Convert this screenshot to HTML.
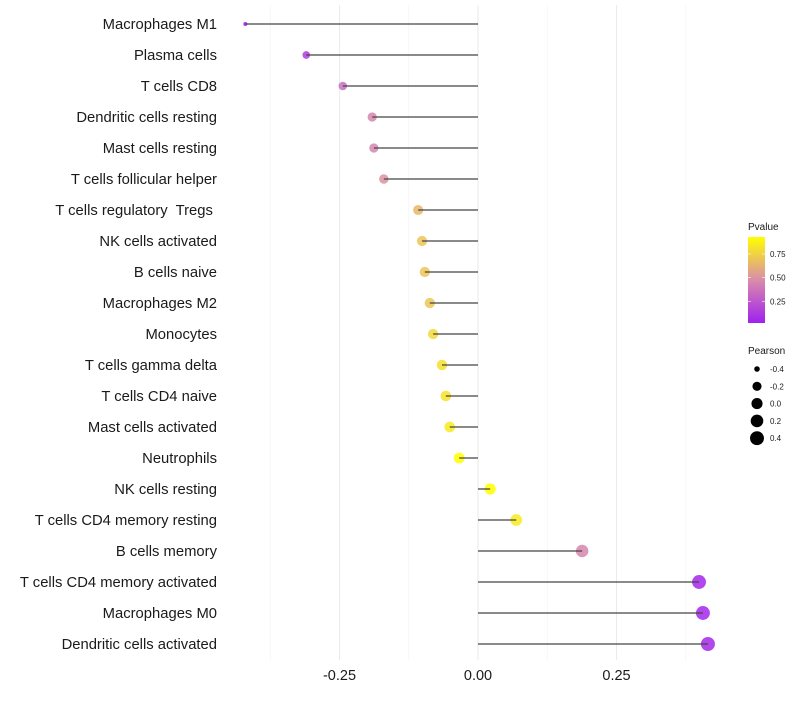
<!DOCTYPE html>
<html><head><meta charset="utf-8"><style>
body{margin:0;background:#fff;font-family:"Liberation Sans",sans-serif}
svg text{font-family:"Liberation Sans",sans-serif;white-space:pre}
</style></head><body>
<svg id="chart" width="800" height="700">
<g id="grid"></g><g id="marks"></g><g id="ylabels"></g><g id="xlabels"></g><g id="legend"></g>
</svg>
<script>
const categories=["Macrophages M1","Plasma cells","T cells CD8","Dendritic cells resting","Mast cells resting","T cells follicular helper","T cells regulatory  Tregs ","NK cells activated","B cells naive","Macrophages M2","Monocytes","T cells gamma delta","T cells CD4 naive","Mast cells activated","Neutrophils","NK cells resting","T cells CD4 memory resting","B cells memory","T cells CD4 memory activated","Macrophages M0","Dendritic cells activated"];
const pearson=[-0.42,-0.31,-0.244,-0.191,-0.188,-0.170,-0.108,-0.101,-0.096,-0.087,-0.081,-0.065,-0.058,-0.051,-0.034,0.022,0.069,0.188,0.399,0.406,0.415];
const pvalues=[0.02,0.15,0.35,0.45,0.45,0.5,0.65,0.7,0.7,0.7,0.78,0.8,0.82,0.85,0.93,0.93,0.85,0.45,0.05,0.05,0.05];
const xTicks=[-0.25,0,0.25];
const xTickLabels=["-0.25","0.00","0.25"];
const minorTicks=[-0.375,-0.125,0.125,0.375];
const pTicks=[0.25,0.5,0.75];
const sizeTicks=[-0.4,-0.2,0,0.2,0.4];
const NS="http://www.w3.org/2000/svg";
function mk(t,a,p){const e=document.createElementNS(NS,t);for(const k in a)e.setAttribute(k,a[k]);p.appendChild(e);return e;}
const x=v=>478+v*554;
const y=i=>24+i*31;
const rad=v=>2+5*Math.sqrt(Math.max(0,v+0.42)/0.835);
const pMin=0.02,pMax=0.93;
function lerp(a,b,t){return a.map((c,i)=>Math.round(c+(b[i]-c)*t));}
function col(p){let t=Math.max(0,Math.min(1,(p-pMin)/(pMax-pMin)));
 const s=[[160,32,240],[217,140,170],[255,255,0]];
 const c=t<0.5?lerp(s[0],s[1],t*2):lerp(s[1],s[2],(t-0.5)*2);return`rgb(${c})`;}
const grid=document.getElementById('grid'),marks=document.getElementById('marks'),yl=document.getElementById('ylabels'),xl=document.getElementById('xlabels'),lg=document.getElementById('legend');
minorTicks.forEach(v=>{const l=mk('line',{x1:x(v),x2:x(v),y1:5,y2:660,stroke:'#f2f2f2','stroke-width':0.6},grid);

});
xTicks.forEach((v,i)=>{const l=mk('line',{x1:x(v),x2:x(v),y1:5,y2:660,stroke:'#ebebeb','stroke-width':1.1},grid);


const t=mk('text',{x:x(v),y:680,'text-anchor':'middle','font-size':14.5,fill:'#1a1a1a'},xl);t.textContent=xTickLabels[i];

});
categories.forEach((c,i)=>{
 const t=mk('text',{x:217,y:y(i)+5,'text-anchor':'end','font-size':14.8,fill:'#1a1a1a'},yl);t.textContent=c;
 
 
 const pt=mk('circle',{cx:x(pearson[i]),cy:y(i),r:rad(pearson[i]),fill:col(pvalues[i]),'fill-opacity':0.85},marks);
 
 
 const ln=mk('line',{x1:x(0),x2:x(pearson[i]),y1:y(i),y2:y(i),stroke:'#444','stroke-width':1.3},marks);
 
 
});
let tt=mk('text',{x:748,y:230,'font-size':10,fill:'#1a1a1a'},lg);tt.textContent='Pvalue';


const defs=mk('defs',{},lg);const gr=mk('linearGradient',{id:'pg',x1:0,y1:1,x2:0,y2:0},defs);
for(let k=0;k<=10;k++){const p=pMin+(pMax-pMin)*k/10;mk('stop',{offset:k/10,'stop-color':col(p)},gr);}
const py=p=>323-(p-pMin)/(pMax-pMin)*86;
const bar=mk('rect',{x:748,y:237,width:17,height:86,fill:'url(#pg)'},lg);


pTicks.forEach(p=>{mk('line',{x1:748,x2:751,y1:py(p),y2:py(p),stroke:'#fff','stroke-width':0.6},lg);mk('line',{x1:762,x2:765,y1:py(p),y2:py(p),stroke:'#fff','stroke-width':0.6},lg);
 const t=mk('text',{x:770,y:py(p)+3,'font-size':8,fill:'#1a1a1a'},lg);t.textContent=p.toFixed(2);
 
 });
tt=mk('text',{x:748,y:354,'font-size':10,fill:'#1a1a1a'},lg);tt.textContent='Pearson';


sizeTicks.forEach((v,i)=>{const cy=369+i*17.3;
 const c=mk('circle',{cx:757,cy:cy,r:Math.min(7,rad(v)),fill:'#000'},lg);
 
 
 const t=mk('text',{x:770,y:cy+3,'font-size':8,fill:'#1a1a1a'},lg);t.textContent=v.toFixed(1);
 
 });
</script>
</body></html>
